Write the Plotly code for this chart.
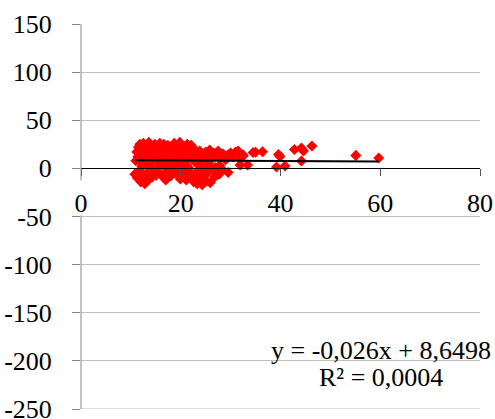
import plotly.graph_objects as go

# scatter data (x, y)
x_vals = [
    11.2, 11.5, 11.8, 12.0, 12.3, 12.5, 12.7, 12.9, 13.1, 13.3, 13.6, 13.8, 14.0, 14.3, 14.5, 14.8, 15.0, 15.2, 15.5, 15.8, 16.0, 16.2,
    11.0, 11.4, 12.1, 13.0, 13.9, 14.6, 15.4, 16.4,
    16.6, 16.9, 17.1, 17.4, 17.6, 17.9, 18.2, 18.4, 18.7, 19.0, 19.3, 19.5, 19.8, 20.0, 20.2, 20.5, 20.8, 21.0, 21.3, 21.6, 21.9, 22.1,
    22.4, 22.7, 17.0, 18.0, 19.6, 21.2,
    23.0, 23.4, 23.8, 24.2, 24.6, 25.0, 25.4, 25.8, 26.2, 26.6, 27.0, 27.5, 28.0, 28.5, 29.0, 29.5, 30.0, 30.5, 31.0, 31.5, 32.0, 32.5,
    23.2, 24.0, 25.6, 26.9, 27.8, 28.3,
    10.8, 11.3, 11.7, 12.0, 12.4, 12.8, 13.2, 13.5, 13.9, 14.3, 14.7, 15.1, 15.6, 16.0, 16.5, 17.0, 17.5, 18.0, 18.5, 19.0, 19.4, 19.9,
    20.3, 20.7, 21.1, 21.5, 21.9, 22.3, 22.6, 23.0, 23.3, 23.6, 24.0, 24.3, 24.7, 25.1, 25.5, 25.9, 26.3, 26.8, 27.2, 27.7,
    12.2, 13.6, 16.8, 20.9, 23.8, 25.2,
    59.7, 55.1, 46.3, 44.2, 44.6, 42.8, 44.2, 40.9, 39.2, 39.6, 39.9, 36.4, 34.5, 35.0, 33.4, 31.9, 31.5, 29.5, 32.5,
]
y_vals = [
    17, 22, 25, 14, 19, 26, 11, 21, 16, 24, 27, 13, 19, 23, 9, 25, 15, 21, 12, 26, 18, 23,
    8, 12, 6, 9, 7, 17, 6, 10,
    25, 14, 20, 24, 11, 17, 22, 8, 26, 13, 19, 24, 27, 10, 16, 22, 7, 19, 25, 13, 17, 24,
    9, 20, 6, 4, 5, 3,
    15, 11, 18, 8, 14, 17, 12, 19, 10, 16, 13, 18, 11, 15, 9, 14, 16, 12, 17, 13, 10, 14,
    5, 2, 4, 1, 3, -1,
    -6, -10, -3, -14, -8, -16, -5, -12, 1, -9, -4, -7, 2, -6, -9, -12, -3, -8, 0, -5, 3, -11,
    -2, -7, -12, 1, -4, -9, -14, -6, -16, -2, -11, -17, -7, -13, -4, -15, -1, -9, -3, -6,
    2, 4, 2, 4, 3, 0,
    10.7, 13.5, 23.2, 21.1, 18.0, 19.7, 7.6, 2.4, 1.4, 14.5, 12.4, 17.2, 16.5, 16.8, 3.5, 3.5, 18.0, -4.2, 12.9,
]

# linear trendline coefficients (from the chart label)
slope = -0.026
intercept = 8.6498
r_squared = 0.0004
trend_x = [min(x_vals), max(x_vals)]
trend_y = [slope * v + intercept for v in trend_x]

y_ticks = [-250, -200, -150, -100, -50, 0, 50, 100, 150]
x_ticks = [0, 20, 40, 60, 80]

FONT = "Liberation Serif"
FS = 26
AXIS_GRAY = "#868686"

fig = go.Figure()
fig.add_trace(go.Scatter(
    x=x_vals, y=y_vals, mode="markers",
    marker=dict(symbol="diamond", size=8.5, color="#ff0000", line=dict(width=0)),
    showlegend=False, hoverinfo="skip",
))
fig.add_trace(go.Scatter(
    x=trend_x, y=trend_y, mode="lines",
    line=dict(color="#000000", width=2),
    showlegend=False, hoverinfo="skip",
))

fig.update_layout(
    template="none",
    width=495, height=419,
    margin=dict(l=81, r=15, t=24, b=10),
    paper_bgcolor="white", plot_bgcolor="white",
    font=dict(family=FONT, size=FS, color="black"),
    xaxis=dict(
        range=[0, 80], tickvals=x_ticks, ticktext=[str(t) for t in x_ticks],
        anchor="free", position=0.625, automargin=False,
        showline=True, linecolor="#000000", linewidth=1,
        ticks="outside", ticklen=7, tickcolor="#555555", tickwidth=1,
        showgrid=False, zeroline=False, ticklabelstandoff=4,
        tickfont=dict(family=FONT, size=FS, color="black"),
    ),
    yaxis=dict(
        range=[-250, 150], tickvals=y_ticks, ticktext=[str(t) for t in y_ticks],
        automargin=False, showline=False,
        ticks="outside", ticklen=8, tickcolor=AXIS_GRAY, tickwidth=1,
        showgrid=True, gridcolor="#bfbfbf", gridwidth=1,
        zeroline=False, ticklabelstandoff=15, ticklabeloverflow="allow",
        tickfont=dict(family=FONT, size=FS, color="black"),
    ),
    shapes=[
        # bottom gridline (-250)
        dict(type="line", xref="paper", yref="y", x0=0, x1=1, y0=y_ticks[0], y1=y_ticks[0],
             line=dict(color="#bfbfbf", width=1), layer="below"),
        # vertical axis line, interrupted behind the x tick labels
        dict(type="line", xref="paper", yref="paper", x0=0, x1=0, y0=0, y1=0.503,
             line=dict(color=AXIS_GRAY, width=1), layer="above"),
        dict(type="line", xref="paper", yref="paper", x0=0, x1=0, y0=0.594, y1=1,
             line=dict(color=AXIS_GRAY, width=1), layer="above"),
    ],
    annotations=[
        dict(xref="paper", yref="paper", x=0.752, y=0.153, xanchor="center", yanchor="middle",
             text=f"y = {slope:.3f}x + {intercept:.4f}".replace(".", ","), showarrow=False,
             font=dict(family=FONT, size=FS, color="black")),
        dict(xref="paper", yref="paper", x=0.752, y=0.081, xanchor="center", yanchor="middle",
             text=f"R² = {r_squared:.4f}".replace(".", ","), showarrow=False,
             font=dict(family=FONT, size=FS, color="black")),
    ],
)

fig.write_html("out.html")
